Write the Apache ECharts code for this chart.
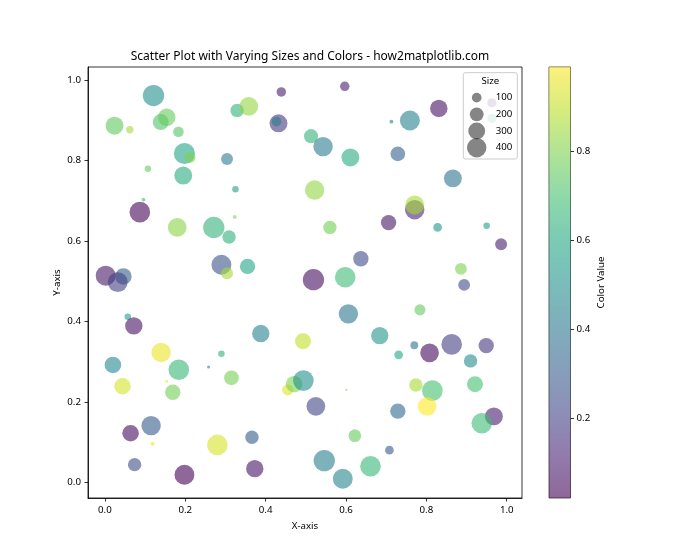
<!DOCTYPE html>
<html><head><meta charset="utf-8">
<script src="https://cdn.jsdelivr.net/npm/echarts@6/dist/echarts.min.js"></script>
<style>html,body{margin:0;padding:0;background:#fff}#c{width:700px;height:560px}</style>
</head><body><div id="c"></div>
<script>
const xValues = [0.121,0.024,0.062,0.139,0.154,0.183,0.198,0.212,0.304,0.107,0.195,0.096,0.087,0.329,0.325,0.358,0.439,0.597,0.432,0.427,
0.513,0.543,0.611,0.522,0.831,0.713,0.759,0.729,0.866,0.771,0.771,0.180,0.271,0.309,0.323,0.290,0.304,0.002,0.046,0.032,
0.057,0.072,0.140,0.290,0.560,0.637,0.355,0.519,0.598,0.606,0.388,0.493,0.684,0.706,0.828,0.950,0.986,0.886,0.894,0.784,
0.770,0.808,0.863,0.949,0.731,0.910,0.020,0.044,0.184,0.154,0.169,0.258,0.315,0.115,0.064,0.119,0.280,0.074,0.198,0.455,
0.471,0.494,0.601,0.525,0.366,0.622,0.373,0.546,0.592,0.661,0.774,0.815,0.802,0.921,0.729,0.968,0.938,0.708,0.963,0.963];
const yValues = [0.962,0.887,0.877,0.896,0.908,0.872,0.818,0.808,0.804,0.780,0.763,0.703,0.672,0.925,0.729,0.935,0.971,0.985,0.893,0.897,
0.861,0.835,0.808,0.727,0.930,0.897,0.900,0.817,0.756,0.678,0.690,0.634,0.634,0.610,0.660,0.541,0.520,0.514,0.512,0.498,
0.412,0.389,0.323,0.320,0.634,0.556,0.537,0.504,0.510,0.419,0.370,0.351,0.365,0.646,0.634,0.638,0.592,0.531,0.491,0.429,
0.341,0.322,0.343,0.340,0.317,0.302,0.292,0.239,0.280,0.251,0.224,0.287,0.260,0.141,0.122,0.096,0.093,0.044,0.019,0.230,
0.244,0.253,0.230,0.189,0.112,0.116,0.034,0.054,0.009,0.040,0.242,0.228,0.189,0.244,0.177,0.164,0.147,0.080,0.944,0.905];
const sizeValues = [480,340,57,270,320,120,470,120,150,45,340,16,450,190,45,370,95,95,340,100,
210,400,340,400,320,16,420,230,340,400,380,370,480,190,15,420,150,420,290,420,
45,320,400,45,190,250,250,480,450,400,320,270,320,250,80,45,150,150,150,130,
65,370,450,250,80,190,290,290,450,8,250,10,230,400,290,16,450,190,420,130,
290,450,5,370,190,170,320,480,420,450,190,450,370,270,250,340,450,80,90,90];
const colorValues = [0.50,0.75,0.86,0.72,0.76,0.73,0.58,0.80,0.42,0.76,0.62,0.70,0.03,0.64,0.57,0.83,0.10,0.10,0.18,0.42,
0.65,0.42,0.62,0.83,0.06,0.45,0.44,0.32,0.38,0.12,0.86,0.82,0.65,0.64,0.80,0.27,0.86,0.08,0.30,0.20,
0.55,0.06,0.96,0.65,0.78,0.24,0.58,0.05,0.68,0.40,0.44,0.90,0.52,0.08,0.52,0.56,0.10,0.80,0.24,0.76,
0.38,0.04,0.20,0.17,0.60,0.48,0.47,0.93,0.66,0.95,0.78,0.45,0.79,0.30,0.05,0.96,0.93,0.25,0.02,0.94,
0.80,0.50,0.80,0.22,0.30,0.76,0.07,0.43,0.46,0.66,0.86,0.70,0.99,0.70,0.35,0.09,0.68,0.30,0.08,0.66];
const xTicks = [0.0,0.2,0.4,0.6,0.8,1.0];
const yTicks = [0.0,0.2,0.4,0.6,0.8,1.0];
const cbTicks = [0.2,0.4,0.6,0.8];
const legendSizes = [100,200,300,400];
const legendLabels = ['100','200','300','400'];

const viridis = ['#440154','#482475','#414487','#355f8d','#2a788e','#21918c','#22a884','#44bf70','#7ad151','#bddf26','#fde725'];
const cbMin = Math.min(...colorValues), cbMax = Math.max(...colorValues);
const PX = 70/72;
const FONT = 'Noto Sans';
const points = xValues.map((x,i)=>[x, yValues[i], sizeValues[i], colorValues[i]]);

const chart = echarts.init(document.getElementById('c'), null, {renderer:'canvas'});
const tickStyle = {show:true, length:3.5, lineStyle:{color:'#000', width:0.8}};
const lbl = {fontSize:9.7, color:'#000', fontFamily:FONT};
chart.setOption({
  animation:false,
  backgroundColor:'#fff',
  textStyle:{fontFamily:FONT},
  title:{text:'Scatter Plot with Varying Sizes and Colors - how2matplotlib.com', left:305, textAlign:'center', top:46,
    textStyle:{fontFamily:FONT, fontSize:12, fontWeight:'normal', color:'#000'}},
  grid:[
    {left:88, top:67, width:434, height:431, show:true, borderColor:'#000', borderWidth:0.8, backgroundColor:'transparent'},
    {left:549, top:67, width:21.5, height:431, show:true, borderColor:'#333', borderWidth:0.8, backgroundColor:'transparent'},
    {left:470, top:89.3, width:13.4, height:66.7, show:false}
  ],
  xAxis:[
    {gridIndex:0, type:'value', min:-0.042, max:1.038, splitLine:{show:false},
     axisLine:{show:true, onZero:false, lineStyle:{color:'#000', width:0.8}},
     axisTick:Object.assign({customValues:xTicks}, tickStyle),
     axisLabel:Object.assign({customValues:xTicks, formatter:v=>v.toFixed(1), margin:7}, lbl),
     name:'X-axis', nameLocation:'middle', nameGap:23, nameTextStyle:lbl},
    {gridIndex:1, type:'category', data:['cb'], show:false},
    {gridIndex:2, type:'value', min:0, max:1, show:false}
  ],
  yAxis:[
    {gridIndex:0, type:'value', min:-0.039, max:1.033, splitLine:{show:false},
     axisLine:{show:true, onZero:false, lineStyle:{color:'#000', width:0.8}},
     axisTick:Object.assign({customValues:yTicks}, tickStyle),
     axisLabel:Object.assign({customValues:yTicks, formatter:v=>v.toFixed(1), margin:7}, lbl),
     name:'Y-axis', nameLocation:'middle', nameGap:26, nameRotate:90, nameMoveOverlap:false, nameTextStyle:lbl},
    {gridIndex:1, type:'value', position:'right', min:cbMin, max:cbMax, splitLine:{show:false},
     axisLine:{show:false},
     axisTick:Object.assign({customValues:cbTicks}, tickStyle),
     axisLabel:Object.assign({customValues:cbTicks, formatter:v=>v.toFixed(1), margin:6}, lbl),
     name:'Color Value', nameLocation:'middle', nameGap:26, nameRotate:90, nameTextStyle:lbl},
    {gridIndex:2, type:'category', data:legendLabels, inverse:true, position:'right', z:70,
     axisLine:{show:false}, axisTick:{show:false},
     axisLabel:Object.assign({margin:12.3}, lbl)}
  ],
  visualMap:{type:'continuous', show:false, seriesIndex:0, dimension:3, min:cbMin, max:cbMax, inRange:{color:viridis}},
  graphic:[
    {type:'rect', z:50, shape:{x:463.3, y:72.7, width:54, height:86.3, r:2},
     style:{fill:'rgba(255,255,255,0.8)', stroke:'#cccccc', lineWidth:1}},
    {type:'text', z:51, x:490.3, y:81, style:{text:'Size', fontSize:9.7, fontFamily:FONT, fill:'#000', align:'center', verticalAlign:'middle'}}
  ],
  series:[
    {type:'scatter', xAxisIndex:0, yAxisIndex:0, data:points, symbolSize:v=>Math.sqrt(v[2])*PX,
     itemStyle:{opacity:0.6}, z:2},
    {type:'bar', xAxisIndex:1, yAxisIndex:1, stack:'cb', data:[cbMin], barWidth:'100%', itemStyle:{color:'transparent'}, silent:true},
    {type:'bar', xAxisIndex:1, yAxisIndex:1, stack:'cb', data:[cbMax-cbMin], barWidth:'100%', silent:true,
     itemStyle:{opacity:0.6, color:{type:'linear', x:0, y:1, x2:0, y2:0,
       colorStops:viridis.map((c,i)=>({offset:i/(viridis.length-1), color:c}))}}},
    {type:'scatter', xAxisIndex:2, yAxisIndex:2, z:60,
     data:legendSizes.map((s,i)=>[0.5, legendLabels[i], s]), symbolSize:v=>Math.sqrt(v[2])*PX,
     itemStyle:{color:'rgba(0,0,0,0.6)'}}
  ]
});
</script></body></html>
